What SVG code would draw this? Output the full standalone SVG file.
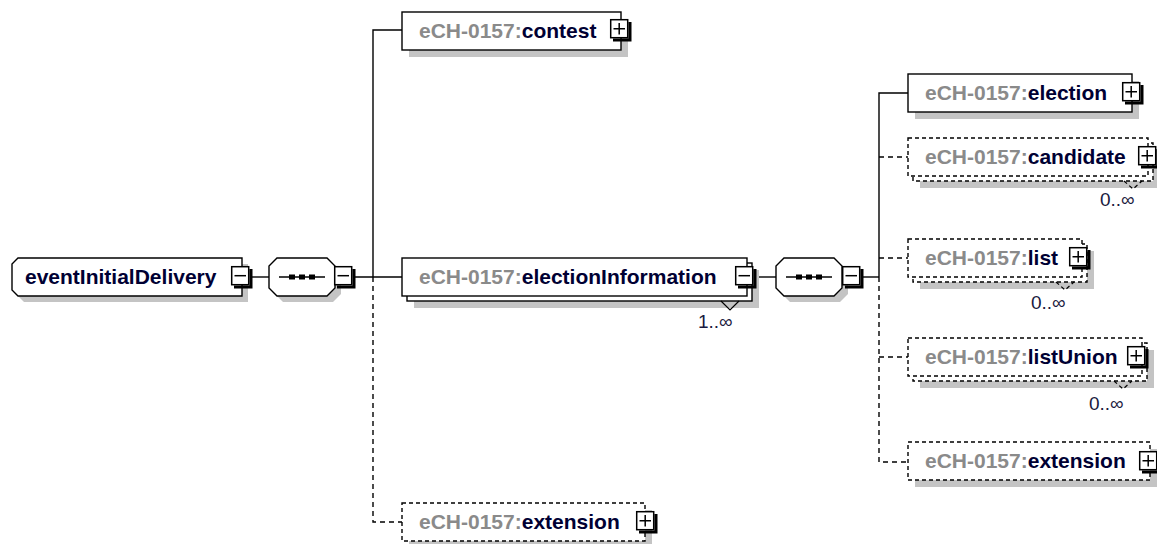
<svg xmlns="http://www.w3.org/2000/svg" xmlns:xlink="http://www.w3.org/1999/xlink" width="1157" height="544" viewBox="0 0 1157 544">
<style>
.box{fill:#fff;stroke:#000;stroke-width:1.4}
.opt{stroke-dasharray:4 3}
.sh{fill:#c4c4c4;stroke:none}
.ln{stroke:#000;stroke-width:1.4;fill:none}
.dash{stroke-dasharray:5 4}
.t{font-family:"Liberation Sans",Arial,sans-serif;font-size:21px;font-weight:bold}
.ns{fill:#8a8a8a}
.nm{fill:#000033}
.m{font-family:"Liberation Sans",Arial,sans-serif;font-size:19px;fill:#1a1a40}
.chev{fill:none;stroke:#000;stroke-width:1.2}
</style>
<defs>
<g id="pb"><rect x="0.7" y="0.7" width="17" height="18" fill="#fff" stroke="#000" stroke-width="1.5"/><path d="M18.4,3 H21.5 V22.5 H3 V19.4 H18.4 Z" fill="#000"/></g>
<g id="plus"><use href="#pb"/><path d="M3.5,9.7 H15 M9.2,4 V15.4" stroke="#000" stroke-width="1.5"/></g>
<g id="minus"><use href="#pb"/><path d="M3.5,9.7 H15" stroke="#000" stroke-width="1.5"/></g>
<g id="seq">
<polygon class="sh" points="14,6 64,6 72,14 72,36 64,44 14,44 6,36 6,14"/>
<polygon class="box" points="8,0 58,0 66,8 66,30 58,38 8,38 0,30 0,8"/>
<path d="M10,19 H56" stroke="#000" stroke-width="1.4"/>
<rect x="20" y="16.5" width="6" height="5" fill="#000"/>
<rect x="30" y="16.5" width="6" height="5" fill="#000"/>
<rect x="40" y="16.5" width="6" height="5" fill="#000"/>
</g>
</defs>
<rect width="1157" height="544" fill="#fff"/>

<g id="connectors">
<path class="ln" d="M252,277 H269"/>
<path class="ln" d="M355,277 H402"/>
<path class="ln" d="M402,30 H373 V277"/>
<path class="ln dash" d="M373,277 V522 H402"/>
<path class="ln" d="M757,277 H776"/>
<path class="ln" d="M862,277 H879"/>
<path class="ln" d="M908,93 H879 V277"/>
<path class="ln dash" d="M879,277 V462 H908"/>
<path class="ln dash" d="M879,157 H908"/>
<path class="ln dash" d="M879,258 H908"/>
<path class="ln dash" d="M879,357 H908"/>
</g>

<g id="root">
<path class="sh" d="M24,264 H248 V302 H24 L18,296 V270 Z"/>
<path class="box" d="M18,258 H242 V296 H18 L12,290 V264 Z"/>
<text class="t nm" x="25" y="284">eventInitialDelivery</text>
<use href="#minus" x="231" y="266"/>
</g>

<g id="seq1">
<use href="#seq" x="269" y="258"/>
<use href="#minus" x="334" y="266"/>
</g>

<g id="contest">
<rect class="sh" x="409" y="19" width="219" height="38"/>
<rect class="box" x="402" y="12" width="219" height="38"/>
<text class="t" x="419" y="38"><tspan class="ns">eCH-0157:</tspan><tspan class="nm">contest</tspan></text>
<use href="#plus" x="610" y="19"/>
</g>

<g id="electionInformation">
<rect class="sh" x="414" y="270" width="345" height="38"/>
<rect class="box" x="407" y="263" width="345" height="38"/>
<rect class="box" x="402" y="258" width="345" height="38"/>
<text class="t" x="419" y="284"><tspan class="ns">eCH-0157:</tspan><tspan class="nm">electionInformation</tspan></text>
<use href="#minus" x="735" y="266"/>
<path class="chev" d="M721,301 L730,310 L739,301"/>
<text class="m" x="698" y="328">1..∞</text>
</g>

<g id="extensionLeft">
<rect class="sh" x="409" y="510" width="243" height="38"/>
<rect class="box opt" x="402" y="503" width="243" height="38"/>
<text class="t" x="419" y="529"><tspan class="ns">eCH-0157:</tspan><tspan class="nm">extension</tspan></text>
<use href="#plus" x="636" y="511"/>
</g>

<g id="seq2">
<use href="#seq" x="776" y="258"/>
<use href="#minus" x="842" y="266"/>
</g>

<g id="election">
<rect class="sh" x="915" y="81" width="224" height="38"/>
<rect class="box" x="908" y="74" width="224" height="38"/>
<text class="t" x="925" y="100"><tspan class="ns">eCH-0157:</tspan><tspan class="nm">election</tspan></text>
<use href="#plus" x="1122" y="82"/>
</g>

<g id="candidate">
<rect class="sh" x="920" y="150" width="240" height="38"/>
<rect class="box opt" x="913" y="143" width="240" height="38"/>
<rect class="box opt" x="908" y="138" width="240" height="38"/>
<text class="t" x="925" y="164"><tspan class="ns">eCH-0157:</tspan><tspan class="nm">candidate</tspan></text>
<use href="#plus" x="1138" y="146"/>
<path class="chev opt" d="M1124,181 L1133,189 L1142,181"/>
<text class="m" x="1100" y="206">0..∞</text>
</g>

<g id="list">
<rect class="sh" x="920" y="251" width="174" height="38"/>
<rect class="box opt" x="913" y="244" width="174" height="38"/>
<rect class="box opt" x="908" y="239" width="174" height="38"/>
<text class="t" x="925" y="265"><tspan class="ns">eCH-0157:</tspan><tspan class="nm">list</tspan></text>
<use href="#plus" x="1069" y="247"/>
<path class="chev opt" d="M1056,282 L1065,290 L1074,282"/>
<text class="m" x="1031" y="309">0..∞</text>
</g>

<g id="listUnion">
<rect class="sh" x="920" y="350" width="234" height="38"/>
<rect class="box opt" x="913" y="343" width="234" height="38"/>
<rect class="box opt" x="908" y="338" width="234" height="38"/>
<text class="t" x="925" y="364"><tspan class="ns">eCH-0157:</tspan><tspan class="nm">listUnion</tspan></text>
<use href="#plus" x="1127" y="346"/>
<path class="chev opt" d="M1114,381 L1123,389 L1132,381"/>
<text class="m" x="1089" y="410">0..∞</text>
</g>

<g id="extensionRight">
<rect class="sh" x="915" y="449" width="242" height="38"/>
<rect class="box opt" x="908" y="442" width="242" height="38"/>
<text class="t" x="925" y="468"><tspan class="ns">eCH-0157:</tspan><tspan class="nm">extension</tspan></text>
<use href="#plus" x="1139" y="451"/>
</g>
</svg>
